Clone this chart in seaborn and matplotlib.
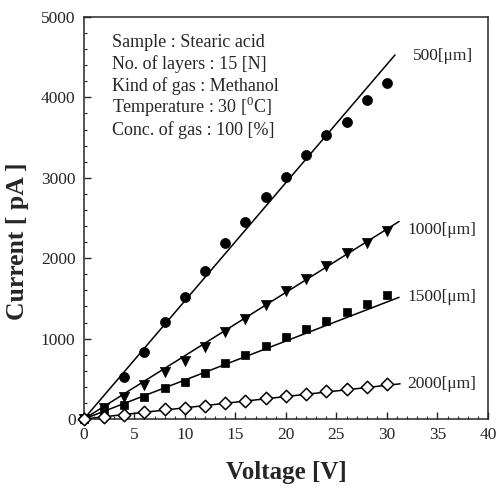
import numpy as np
import pandas as pd
import matplotlib
matplotlib.use("Agg")
import matplotlib.pyplot as plt
import seaborn as sns
from matplotlib.ticker import MultipleLocator

# ---- data ----
voltage = [0, 2, 4, 6, 8, 10, 12, 14, 16, 18, 20, 22, 24, 26, 28, 30]
voltage_500 = [0, 4, 6, 8, 10, 12, 14, 16, 18, 20, 22, 24, 26, 28, 30]
current_500 = [0, 525, 835, 1205, 1513, 1840, 2184, 2456, 2760, 3015, 3285, 3530, 3697, 3965, 4180]
current_1000 = [0, 140, 273, 420, 590, 720, 890, 1080, 1241, 1420, 1588, 1745, 1898, 2060, 2184, 2333]
current_1500 = [0, 110, 174, 275, 385, 465, 577, 695, 800, 905, 1025, 1117, 1216, 1327, 1427, 1538]
current_2000 = [0, 30, 55, 90, 124, 142, 168, 205, 230, 262, 285, 310, 347, 372, 397, 434]

# fitted straight lines (start and end points)
fit_series = ["500", "1000", "1500", "2000"]
fit_v_start = [0, 0, 0, 0]
fit_v_end = [30.8, 31.2, 31.2, 31.3]
fit_i_start = [0, 0, 0, 0]
fit_i_end = [4528, 2457, 1514, 438]

curve_labels = ["500[\u03bcm]", "1000[\u03bcm]", "1500[\u03bcm]", "2000[\u03bcm]"]
label_x = [32.6, 32.0, 32.0, 32.0]
label_y = [4516, 2345, 1514, 434]

info_lines = ["Sample : Stearic acid",
              "No. of layers : 15 [N]",
              "Kind of gas : Methanol",
              "Temperature : 30 [$^{\\mathrm{0}}$C]",
              "Conc. of gas : 100 [%]"]
info_y = [0.926, 0.871, 0.816, 0.762, 0.707]

x_ticks = [0, 5, 10, 15, 20, 25, 30, 35, 40]
y_ticks = [0, 1000, 2000, 3000, 4000, 5000]

# ---- styling ----
sns.set_style("ticks")
plt.rcParams['font.family'] = ['Liberation Serif', 'DejaVu Serif']
plt.rcParams['mathtext.fontset'] = 'custom'
plt.rcParams['mathtext.rm'] = 'Liberation Serif'

fig = plt.figure(figsize=(5.02, 4.93), dpi=100)
ax = fig.add_axes([0.167, 0.150, 0.805, 0.8155])

fit_df = pd.DataFrame({
    "series": fit_series * 2,
    "V": fit_v_start + fit_v_end,
    "I": fit_i_start + fit_i_end,
})
for s in fit_series:
    sub = fit_df[fit_df.series == s]
    sns.lineplot(data=sub, x="V", y="I", ax=ax, color="black", lw=1.1,
                 sort=True, estimator=None, zorder=2)

sns.scatterplot(x=voltage_500, y=current_500, ax=ax, marker="o", s=52,
                color="black", edgecolor="black", linewidth=0.5, zorder=3, clip_on=False)
sns.scatterplot(x=voltage, y=current_1000, ax=ax, marker="v", s=54,
                color="black", edgecolor="black", linewidth=0.5, zorder=3, clip_on=False)
sns.scatterplot(x=voltage, y=current_1500, ax=ax, marker="s", s=38,
                color="black", edgecolor="black", linewidth=0.5, zorder=3, clip_on=False)
sns.scatterplot(x=voltage, y=current_2000, ax=ax, marker="D", s=40,
                color="white", edgecolor="black", linewidth=1.1, zorder=4, clip_on=False)

for lab, lx, ly in zip(curve_labels, label_x, label_y):
    ax.text(lx, ly, lab, fontsize=12.5, va="center", ha="left")

for line, yy in zip(info_lines, info_y):
    ax.text(0.069, yy, line, transform=ax.transAxes, fontsize=13,
            va="baseline", ha="left")

ax.set_xlim(0, 40)
ax.set_ylim(0, 5000)
ax.set_xticks(x_ticks)
ax.set_yticks(y_ticks)
ax.xaxis.set_minor_locator(MultipleLocator(1))
ax.yaxis.set_minor_locator(MultipleLocator(200))
ax.tick_params(axis="both", which="major", direction="in", length=5,
               width=1, labelsize=12.5, pad=6)
ax.tick_params(axis="both", which="minor", direction="in", length=2.5, width=0.8)
for sp in ax.spines.values():
    sp.set_linewidth(1.1)
    sp.set_visible(True)

ax.set_xlabel("Voltage [V]", fontsize=18, fontweight="bold", labelpad=13)
ax.set_ylabel("Current [ pA ]", fontsize=18.5, fontweight="bold")
ax.yaxis.set_label_coords(-0.136, 0.443)

fig.savefig("out.png", dpi=100)
